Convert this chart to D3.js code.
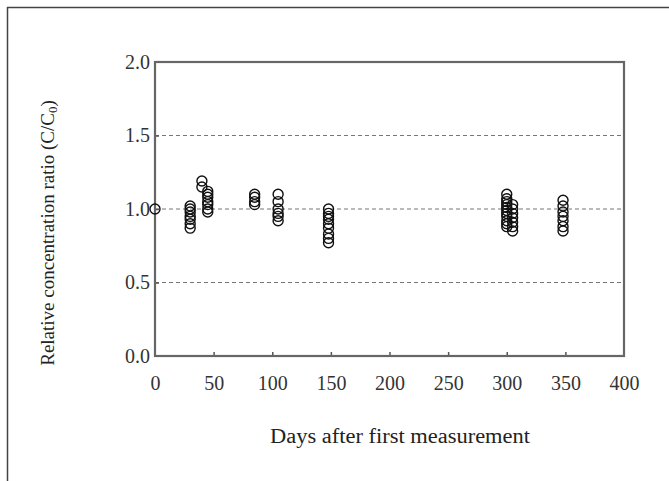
<!DOCTYPE html>
<html><head><meta charset="utf-8">
<script src="https://cdn.jsdelivr.net/npm/d3@7"></script>
<style>body{margin:0;background:#fff}</style>
</head><body>
<script>
// Data: days and relative concentration ratios
const day0 = [1.00];
const day30 = [1.02, 1.00, 0.98, 0.95, 0.93, 0.90, 0.87];
const day40 = [1.19, 1.15];
const day45 = [1.12, 1.10, 1.08, 1.05, 1.03, 1.00, 0.98];
const day85 = [1.10, 1.08, 1.05, 1.03];
const day105 = [1.10, 1.05, 1.00, 0.97, 0.95, 0.92];
const day148 = [1.00, 0.97, 0.95, 0.93, 0.90, 0.87, 0.83, 0.80, 0.77];
const day300 = [1.10, 1.07, 1.05, 1.03, 1.01, 0.99, 0.97, 0.95, 0.92, 0.90, 0.88];
const day305 = [1.03, 1.00, 0.97, 0.94, 0.91, 0.88, 0.85];
const day348 = [1.06, 1.02, 0.98, 0.95, 0.92, 0.88, 0.85];
const groups = [[0, day0],[30, day30],[40, day40],[45, day45],[85, day85],[105, day105],[148, day148],[300, day300],[305, day305],[348, day348]];
const xTicks = [0,50,100,150,200,250,300,350,400];
const yTicks = [0.0,0.5,1.0,1.5,2.0];
const gridVals = [0.5,1.0,1.5];

const W = 669, H = 481;
const svg = d3.select("body").append("svg").attr("width", W).attr("height", H);
const font = "'Liberation Serif', 'Times New Roman', serif";

// outer frame (top and left lines)
svg.append("line").attr("x1",7).attr("x2",W).attr("y1",7.5).attr("y2",7.5).attr("stroke","#444").attr("stroke-width",1.5);
svg.append("line").attr("x1",7.5).attr("x2",7.5).attr("y1",7).attr("y2",H).attr("stroke","#444").attr("stroke-width",1.5);

const x = d3.scaleLinear().domain([0,400]).range([155,624]);
const y = d3.scaleLinear().domain([0,2]).range([356,62]);

// gridlines
svg.selectAll(".grid").data(gridVals).enter().append("line")
  .attr("x1", x(0)).attr("x2", x(400)).attr("y1", d=>y(d)).attr("y2", d=>y(d))
  .attr("stroke","#777").attr("stroke-width",1.2).attr("stroke-dasharray","4,3");

// axes
const xAxis = svg.append("g").attr("transform",`translate(0,${y(0)})`)
  .call(d3.axisBottom(x).tickValues(xTicks).tickSizeInner(-4).tickSizeOuter(0).tickPadding(20).tickFormat(d3.format("d")));
const yAxis = svg.append("g").attr("transform",`translate(${x(0)},0)`)
  .call(d3.axisLeft(y).tickValues(yTicks).tickSizeInner(-4).tickSizeOuter(0).tickPadding(5).tickFormat(d3.format(".1f")));
[xAxis,yAxis].forEach(g=>{
  g.select(".domain").remove();
  g.selectAll("text").attr("font-family",font).attr("font-size",20).attr("fill","#333");
  g.selectAll("line").attr("stroke","#555").attr("stroke-width",1.5);
});
yAxis.selectAll("text").attr("dy","0.3em");
xAxis.selectAll(".tick").filter(d=>d===0||d===400).select("line").remove();
yAxis.selectAll(".tick").filter(d=>d===0||d===2).select("line").remove();

// plot box
svg.append("rect").attr("x",x(0)).attr("y",y(2)).attr("width",x(400)-x(0)).attr("height",y(0)-y(2))
  .attr("fill","none").attr("stroke","#666").attr("stroke-width",2.2);

// points
const pts = [];
groups.forEach(([d, vals]) => vals.forEach(v => pts.push([d, v])));
svg.append("g").selectAll("circle").data(pts).enter().append("circle")
  .attr("cx", d=>x(d[0])).attr("cy", d=>y(d[1])).attr("r",5)
  .attr("fill","none").attr("stroke","#111").attr("stroke-width",1.4);

// axis titles
svg.append("text").attr("x",400).attr("y",443).attr("text-anchor","middle")
  .attr("font-family",font).attr("font-size",20).attr("fill","#222")
  .attr("textLength",260).attr("lengthAdjust","spacingAndGlyphs").text("Days after first measurement");
const yt = svg.append("text").attr("transform","translate(54,233) rotate(-90)").attr("text-anchor","middle")
  .attr("font-family",font).attr("font-size",19).attr("fill","#222");
yt.append("tspan").text("Relative concentration ratio (C/C");
yt.append("tspan").attr("font-size",13).attr("dy",3).text("0");
yt.append("tspan").attr("dy",-3).text(")");
</script>
</body></html>
